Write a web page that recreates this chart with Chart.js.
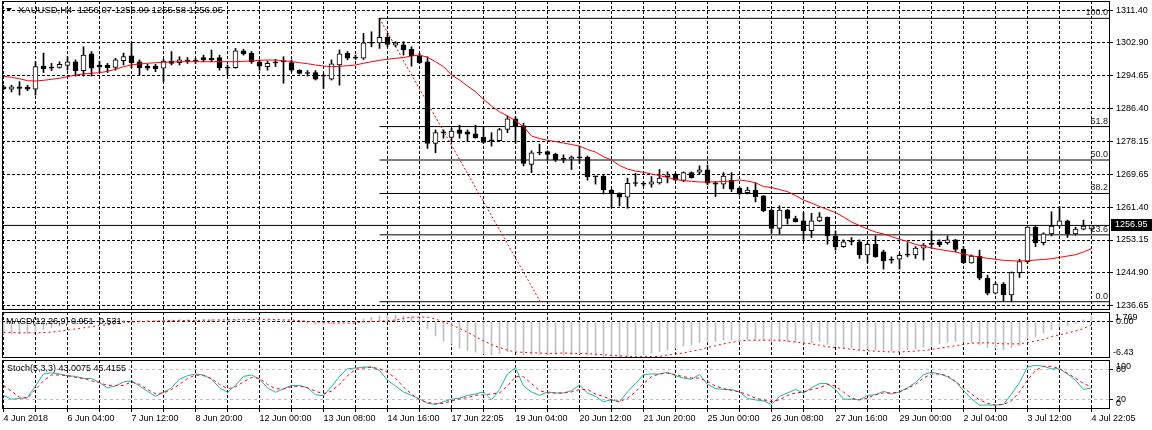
<!DOCTYPE html>
<html>
<head>
<meta charset="utf-8">
<script src="https://cdn.jsdelivr.net/npm/chart.js@4.4.1/dist/chart.umd.min.js"></script>
<style>
  html, body { margin: 0; padding: 0; background: #fff; }
  #wrap { position: relative; width: 1152px; height: 430px; overflow: hidden; background: #fff; }
  canvas { position: absolute; left: 0; }
</style>
</head>
<body>
<div id="wrap">
  <canvas id="mainChart" width="1152" height="311" style="top:0px"></canvas>
  <canvas id="macdChart" width="1152" height="48" style="top:311px"></canvas>
  <canvas id="stochChart" width="1152" height="71" style="top:359px"></canvas>
</div>
<script>
//data

const symbolTitle = 'XAUUSD,H4';
const macdTitle = 'MACD(12,26,9) 0.951 -0.531';
const stochTitle = 'Stoch(5,3,3) 43.0075 45.4155';

const xLabels = ['4 Jun 2018', '6 Jun 04:00', '7 Jun 12:00', '8 Jun 20:00', '12 Jun 00:00', '13 Jun 08:00',
  '14 Jun 16:00', '17 Jun 22:05', '19 Jun 04:00', '20 Jun 12:00', '21 Jun 20:00', '25 Jun 00:00',
  '26 Jun 08:00', '27 Jun 16:00', '29 Jun 00:00', '2 Jul 04:00', '3 Jul 12:00', '4 Jul 22:05'];
const priceTickLabels = ['1311.40', '1302.90', '1294.65', '1286.40', '1278.15', '1269.65', '1261.40', '1253.15', '1244.90', '1236.65'];
const macdLabels = ['1.769', '0.00', '-6.43'];
const stochLabels = ['100', '80', '20', '0'];

const openPrices = [1292.0,1291.4,1292.0,1291.9,1291.4,1297.2,1297.0,1296.9,1297.4,1298.3,
 1296.1,1300.3,1297.5,1297.5,1296.9,1298.6,1299.8,1298.3,1297.2,1297.2,
 1296.7,1298.4,1298.1,1298.6,1298.5,1299.4,1299.2,1299.4,1297.0,1296.8,
 1301.1,1300.5,1298.3,1297.1,1298.1,1298.3,1298.1,1296.2,1295.4,1295.6,
 1294.7,1293.9,1297.5,1300.5,1299.5,1299.2,1303.3,1303.1,1304.5,1302.5,
 1302.6,1301.5,1299.8,1298.3,1277.7,1280.4,1279.2,1281.1,1280.6,1280.1,
 1279.2,1278.4,1278.4,1281.2,1283.9,1282.1,1272.4,1275.3,1275.6,1274.9,
 1273.7,1273.7,1274.1,1274.2,1269.3,1269.4,1265.9,1265.1,1264.1,1267.6,
 1267.4,1267.4,1267.7,1269.3,1269.9,1268.3,1270.3,1270.4,1271.0,1267.7,
 1267.4,1268.4,1266.3,1265.2,1265.9,1264.4,1260.8,1256.2,1260.8,1258.7,
 1258.1,1255.6,1258.1,1259.0,1254.3,1251.6,1252.8,1252.8,1249.5,1252.2,
 1250.3,1248.2,1248.4,1249.5,1249.5,1251.2,1252.2,1252.8,1252.6,1253.3,
 1250.9,1247.5,1249.2,1243.6,1239.8,1242.1,1239.4,1245.0,1247.8,1256.5,
 1252.6,1254.8,1256.8,1258.1,1254.8,1256.0,1256.07];
const highPrices = [1292.4,1292.4,1293.3,1292.4,1298.3,1300.5,1297.9,1298.3,1299.6,1298.8,
 1302.1,1300.9,1298.5,1297.9,1299.2,1300.5,1303.1,1298.8,1297.7,1297.7,
 1298.9,1300.9,1299.6,1299.4,1299.2,1300.0,1301.3,1300.0,1297.5,1301.7,
 1301.5,1300.9,1298.8,1298.5,1298.9,1299.6,1298.8,1296.3,1296.1,1296.1,
 1295.2,1298.8,1301.3,1300.9,1300.0,1305.5,1305.9,1309.3,1305.5,1303.4,
 1303.4,1302.1,1300.5,1299.6,1281.1,1281.1,1281.5,1282.3,1281.1,1282.3,
 1281.9,1280.4,1281.5,1284.6,1284.4,1282.8,1275.8,1277.5,1275.8,1275.2,
 1274.8,1274.5,1277.0,1274.5,1269.4,1269.7,1266.1,1265.2,1268.9,1270.1,
 1268.0,1269.3,1271.1,1270.5,1270.1,1270.5,1270.5,1272.0,1272.2,1268.0,
 1270.3,1270.3,1266.6,1266.6,1267.7,1264.5,1261.0,1261.9,1261.0,1259.3,
 1260.2,1260.0,1260.2,1259.1,1255.6,1253.3,1253.9,1253.3,1252.6,1254.3,
 1250.7,1249.0,1249.9,1252.6,1251.6,1252.4,1255.6,1253.3,1254.3,1253.4,
 1251.6,1249.5,1250.7,1244.4,1242.5,1242.5,1245.2,1248.4,1256.6,1256.8,
 1255.1,1260.4,1261.7,1258.3,1256.5,1258.3,1256.99];
const lowPrices = [1291.2,1290.7,1289.9,1291.0,1289.9,1295.6,1296.1,1296.7,1296.2,1294.7,
 1294.7,1294.7,1295.6,1295.6,1296.2,1297.5,1296.8,1295.0,1296.2,1295.8,
 1293.3,1297.5,1297.5,1297.9,1297.9,1298.3,1298.3,1296.2,1295.0,1296.7,
 1300.0,1297.9,1296.2,1296.2,1297.1,1292.9,1295.8,1295.2,1294.7,1293.7,
 1291.6,1293.7,1292.4,1298.8,1298.9,1298.9,1302.1,1301.7,1302.1,1302.1,
 1300.0,1297.2,1297.9,1276.4,1275.3,1279.0,1278.1,1279.0,1278.1,1279.0,
 1277.7,1277.0,1278.1,1280.4,1277.7,1272.0,1270.3,1274.8,1273.5,1273.1,
 1272.8,1271.1,1272.6,1268.4,1267.4,1264.9,1261.5,1261.9,1261.3,1266.9,
 1266.9,1266.6,1267.4,1267.7,1268.3,1268.0,1268.9,1269.9,1267.2,1264.2,
 1266.3,1265.5,1264.6,1264.9,1262.9,1260.4,1255.0,1254.8,1257.3,1257.8,
 1253.4,1253.9,1257.9,1252.2,1250.7,1251.4,1252.0,1248.6,1247.5,1248.9,
 1245.9,1247.4,1245.9,1249.0,1248.6,1248.2,1251.2,1251.6,1252.2,1250.3,
 1247.4,1247.4,1243.2,1239.4,1239.6,1237.9,1237.66,1243.8,1247.4,1251.6,
 1252.0,1254.3,1256.5,1253.9,1254.5,1255.8,1255.58];
const closePrices = [1291.5,1292.0,1291.6,1291.4,1297.1,1296.6,1296.7,1297.7,1298.3,1296.1,
 1300.0,1296.7,1297.0,1296.8,1298.8,1299.6,1298.1,1296.8,1296.7,1296.6,
 1298.5,1297.9,1298.8,1298.5,1298.45,1298.8,1298.8,1296.8,1296.7,1301.1,
 1300.3,1298.3,1297.2,1297.9,1298.05,1298.25,1296.2,1295.4,1295.35,1293.9,
 1294.65,1297.8,1300.3,1299.2,1299.2,1303.1,1303.0,1304.5,1302.7,1303.1,
 1301.3,1299.8,1298.1,1277.7,1280.4,1280.35,1280.8,1280.2,1280.0,1279.1,
 1277.9,1278.35,1281.2,1283.9,1282.1,1272.6,1275.3,1275.25,1274.9,1273.5,
 1273.65,1274.2,1274.05,1269.3,1269.25,1265.9,1264.9,1264.1,1267.6,1267.55,
 1267.35,1268.0,1268.9,1269.7,1268.4,1270.3,1269.0,1271.0,1267.6,1267.4,
 1269.4,1266.1,1265.1,1265.9,1264.2,1260.7,1256.2,1260.8,1258.7,1257.9,
 1255.6,1258.1,1259.1,1254.3,1251.6,1252.8,1252.75,1249.5,1252.2,1249.0,
 1248.0,1248.15,1249.4,1249.45,1251.2,1252.0,1252.15,1252.0,1253.3,1250.9,
 1247.5,1249.2,1243.6,1239.8,1242.1,1239.4,1245.0,1247.8,1256.5,1252.6,
 1254.8,1256.8,1258.1,1254.8,1256.0,1256.8,1256.95];
const maValues = [1294.64,1294.39,1294.04,1293.53,1293.45,1293.63,1293.88,1294.14,1294.54,1294.97,
 1295.22,1295.40,1295.55,1295.91,1296.41,1297.07,1297.50,1297.75,1297.93,1298.08,
 1298.18,1298.26,1298.33,1298.33,1298.33,1298.33,1298.33,1298.33,1298.33,1298.33,
 1298.43,1298.51,1298.69,1298.76,1298.76,1298.59,1298.38,1298.08,1297.83,1297.50,
 1297.25,1297.07,1297.17,1297.32,1297.50,1297.93,1298.33,1298.69,1298.94,1299.19,
 1299.39,1299.77,1300.03,1299.44,1298.33,1297.07,1294.97,1293.71,1292.19,1290.75,
 1288.83,1287.13,1285.69,1284.61,1283.42,1281.90,1279.55,1278.92,1278.46,1278.16,
 1277.78,1277.40,1277.02,1276.14,1275.50,1274.32,1273.48,1272.09,1271.21,1270.70,
 1270.37,1269.94,1269.56,1269.06,1268.60,1268.25,1268.10,1267.92,1267.92,1267.97,
 1268.05,1268.17,1268.43,1268.17,1267.74,1266.78,1266.53,1266.02,1265.47,1264.51,
 1263.37,1262.61,1261.73,1260.97,1260.21,1259.07,1257.81,1256.92,1256.04,1255.28,
 1254.77,1254.14,1253.44,1252.88,1252.12,1251.74,1251.24,1250.86,1250.55,1250.22,
 1249.72,1249.29,1248.96,1248.63,1248.38,1248.13,1248.02,1247.95,1248.02,1248.20,
 1248.33,1248.53,1248.88,1249.21,1249.54,1250.22,1251.11];
const macdMain = [-2.15,-2.15,-2.1,-2.1,-1.65,-1.3,-1.0,-0.75,-0.5,-0.4,
 -0.1,0.05,0.1,0.1,0.2,0.3,0.35,0.3,0.3,0.25,
 0.35,0.4,0.45,0.45,0.45,0.5,0.5,0.35,0.25,0.45,
 0.5,0.45,0.35,0.3,0.3,0.3,0.15,-0.05,-0.2,-0.4,
 -0.5,-0.35,-0.05,0.1,0.15,0.5,0.8,1.1,1.15,1.2,
 1.1,0.9,0.6,-1.2,-2.5,-3.45,-3.9,-4.7,-5.1,-5.4,
 -5.7,-5.9,-5.7,-5.3,-5.2,-5.9,-5.9,-5.8,-5.8,-5.85,
 -5.9,-5.85,-5.7,-5.9,-6.0,-6.2,-6.35,-6.43,-6.1,-5.9,
 -5.8,-5.6,-5.3,-5.0,-4.7,-4.3,-4.1,-3.7,-3.6,-3.5,
 -3.2,-3.2,-3.2,-3.1,-3.2,-3.3,-3.6,-3.5,-3.6,-3.6,
 -3.75,-3.7,-3.5,-4.0,-4.4,-4.6,-4.6,-5.0,-4.8,-5.0,
 -5.2,-5.2,-5.1,-5.0,-4.8,-4.5,-4.2,-3.9,-3.6,-3.5,
 -3.6,-3.6,-4.1,-4.6,-4.7,-5.0,-4.6,-4.2,-3.0,-2.6,
 -2.0,-1.4,-0.9,-0.6,-0.3,0.4,0.951];
const macdSignal = [-1.85,-1.9,-1.95,-1.95,-1.96,-1.9,-1.82,-1.65,-1.45,-1.25,
 -1.05,-0.85,-0.65,-0.5,-0.33,-0.15,0,0.05,0.1,0.15,
 0.2,0.22,0.24,0.25,0.26,0.3,0.33,0.36,0.38,0.39,
 0.42,0.44,0.45,0.46,0.42,0.38,0.33,0.22,0.1,0,
 -0.1,-0.2,-0.2,-0.2,-0.2,0,0.05,0.13,0.22,0.33,
 0.65,0.85,0.88,0.85,0.52,0,-0.52,-1.17,-1.82,-2.61,
 -3.4,-4.05,-4.57,-5.03,-5.36,-5.42,-5.49,-5.55,-5.62,-5.6,
 -5.55,-5.6,-5.62,-5.68,-5.75,-5.85,-5.95,-6.05,-6.14,-6.18,
 -6.2,-6.18,-6.14,-5.88,-5.7,-5.55,-5.22,-4.96,-4.57,-4.24,
 -3.91,-3.65,-3.4,-3.26,-3.26,-3.26,-3.26,-3.26,-3.4,-3.59,
 -3.75,-3.91,-4.15,-4.44,-4.57,-4.7,-4.87,-5.03,-5.12,-5.22,
 -5.29,-5.36,-5.33,-5.29,-5.2,-5.09,-4.9,-4.7,-4.47,-4.24,
 -4.0,-3.78,-3.75,-3.72,-3.8,-3.91,-3.91,-3.91,-3.65,-3.4,
 -3.14,-2.61,-2.29,-1.96,-1.63,-1.17,-0.531];
const stochMain = [27.8,20,21.4,23.5,46.8,71.5,73.6,71.5,68,66.6,
 62.3,62.3,53.9,43.3,46.8,55.3,57.4,46.8,36.2,25.6,
 34.1,43.3,60.9,68,71.5,69.4,60.9,43.3,34.1,48.2,
 66.6,69.4,60.9,43.3,34.1,41.2,48.2,48.2,43.3,29.2,
 27.1,45.4,66.6,82.1,83.5,85.6,85.6,78.6,58.8,46.8,
 34.8,27.8,20.7,11.5,9.4,15,20,22.1,27.8,30.6,
 34.8,18.6,39.8,71.5,84.2,46.8,34.8,27.8,34.8,32.7,
 32.7,37.6,48.9,32.7,25.6,15,18.6,15,34.8,51.8,
 70.1,71.5,71.5,75.1,68,63.1,60.9,70.1,50.3,41.9,
 39.8,39.8,34.8,21.4,18.6,16.5,9.4,25.6,32.7,39.8,
 32.7,43.3,51.8,51.8,39.8,20,20,18.6,27.8,29.2,
 36.2,30.6,34.8,43.3,53.9,70.1,75.1,71.5,65.9,56,
 37.6,20.7,8,8,8,9.4,30.6,53.9,85.6,89.2,
 87.1,82.1,82.1,71.5,58.8,39.8,43.0];
const stochSignal = [48.2,36.2,24.2,22.1,39.8,57.4,69.4,69.4,68,64.5,
 62.3,57.4,53.9,48.2,48.2,48.2,55.3,50.3,39.8,31.3,
 32.7,39.8,50.3,62.3,69.4,68,62.3,50.3,41.2,45.4,
 55.3,64.5,62.3,50.3,41.2,41.2,45.4,46.8,43.3,36.2,
 31.3,36.2,50.3,68,80.7,83.5,85.6,82,75,63,
 44.7,30.6,18.6,13.6,10.8,11.5,16.5,20.7,23.5,27.8,
 29.2,30.6,32.7,46.8,65.9,65.9,51.8,37.6,32.7,32.7,
 32.7,34.8,39.8,39.8,30.6,25.6,18.6,15,22.1,34.8,
 51.8,65.9,71.5,72.9,70.1,65.9,63.1,63.1,56,46.8,
 41.9,37.6,34.8,29.2,22.1,18.6,15,18.6,27.8,32.7,
 34.8,39.8,43.3,50.3,46.8,34.8,22.1,18.6,22.1,29.2,
 32.7,32.7,34.8,41.9,50.3,63.1,71.5,71.5,68,56,
 43.3,30.6,18.6,11.5,8,9.4,16.5,34.8,58.8,78.6,
 87.1,87.1,82.1,72.9,63.1,51.8,45.4];

// fibo tool, drawn from the 13 Jun high down to the low
const fibRatios = [100.0, 61.8, 50.0, 38.2, 23.6, 0.0];
const fibHigh = 1309.3, fibLow = 1237.66;
const fibFromBar = 47, fibToBar = 67.1;

//setup

Chart.defaults.font.family = '"Liberation Sans", Arial, sans-serif';
Chart.defaults.font.size = 9;
Chart.defaults.color = '#000';
Chart.defaults.animation = false;

const X_MIN = -0.1875, X_MAX = 138.3125;
const PRICE_MIN = 1235.57, PRICE_MAX = 1313.68;
const last = closePrices.length - 1;
const tickTop = parseFloat(priceTickLabels[0]);
const tickStep = (tickTop - parseFloat(priceTickLabels[priceTickLabels.length - 1])) / (priceTickLabels.length - 1);
const gridBars = [];
for (let b = 0; b <= last; b += 4) gridBars.push(b);
const bull = closePrices.map((c, i) => c >= openPrices[i]);
const fibLevel = r => fibLow + r / 100 * (fibHigh - fibLow);
const pts = arr => arr.map((v, i) => ({x: i, y: v}));
const hLine = (from, to, v) => [{x: from, y: v}, {x: to, y: v}];

function xAxis(showLabels, height) {
  return {
    type: 'linear', min: X_MIN, max: X_MAX, offset: false, bounds: 'data',
    afterBuildTicks: s => { s.ticks = gridBars.map(v => ({value: v})); },
    afterFit: s => { s.height = height; s.paddingLeft = 0; s.paddingRight = 0; },
    grid: {color: '#000', lineWidth: 1, offset: false, drawTicks: showLabels, tickLength: 3, tickColor: '#000', tickBorderDash: []},
    border: {display: false, dash: [3, 2]},
    ticks: {display: showLabels, autoSkip: false, maxRotation: 0, align: 'start', padding: 1, color: '#000',
      callback: (v, k) => (k % 2 === 0 ? xLabels[k / 2] : '')}
  };
}

function yAxis(min, max, tickValues, tickText, gridColor, dash) {
  return {
    type: 'linear', position: 'right', min: min, max: max, bounds: 'data',
    afterBuildTicks: s => { s.ticks = tickValues.map(v => ({value: v})); },
    afterFit: s => { s.width = 42; s.paddingTop = 0; s.paddingBottom = 0; },
    grid: {color: gridColor, lineWidth: 1, drawTicks: true, tickLength: 3, tickColor: '#000', tickBorderDash: []},
    border: {display: false, dash: dash},
    ticks: {padding: 3, color: '#000', autoSkip: false, callback: (v, k) => tickText[k]}
  };
}

const panelBorder = {
  id: 'panelBorder',
  afterDraw(chart) {
    const {ctx, chartArea: a} = chart;
    ctx.save();
    ctx.strokeStyle = '#000';
    ctx.lineWidth = 1;
    ctx.strokeRect(Math.round(a.left) + 0.5, Math.round(a.top) + 0.5, Math.round(a.right - a.left) - 1, Math.round(a.bottom - a.top) - 1);
    ctx.restore();
  }
};

const baseOptions = (padding, scales) => ({
  responsive: false, animation: false, devicePixelRatio: 1,
  layout: {padding: padding},
  plugins: {legend: {display: false}, tooltip: {enabled: false}},
  scales: scales
});

//main price panel

const mainOverlay = {
  id: 'mainOverlay',
  afterDraw(chart) {
    const {ctx, chartArea: a, scales: {y}} = chart;
    ctx.save();
    ctx.fillStyle = '#000';
    ctx.beginPath();
    ctx.moveTo(6, 8); ctx.lineTo(12, 8); ctx.lineTo(9, 11.5); ctx.closePath(); ctx.fill();
    ctx.textBaseline = 'middle';
    ctx.font = '9.5px "Liberation Sans", Arial, sans-serif';
    ctx.fillText(symbolTitle + '  ' + [openPrices[last], highPrices[last], lowPrices[last], closePrices[last]].map(v => v.toFixed(2)).join(' '), 18, 10);
    ctx.font = '9px "Liberation Sans", Arial, sans-serif';
    ctx.textAlign = 'right';
    ctx.textBaseline = 'bottom';
    ctx.fillStyle = '#222';
    fibRatios.forEach(r => ctx.fillText(r.toFixed(1), a.right - 2, y.getPixelForValue(fibLevel(r)) - 1));
    const py = Math.round(y.getPixelForValue(closePrices[last]));
    ctx.fillStyle = '#000';
    ctx.fillRect(a.right + 1, py - 6, 42, 12);
    ctx.fillStyle = '#fff';
    ctx.textAlign = 'left';
    ctx.textBaseline = 'middle';
    ctx.fillText(closePrices[last].toFixed(2), a.right + 5, py);
    ctx.restore();
  }
};

const mainDatasets = [
  {type: 'line', data: pts(maValues), borderColor: '#ff0000', borderWidth: 1, pointRadius: 0, order: 0},
  {type: 'bar', data: closePrices.map((c, i) => ({x: i, y: [openPrices[i], c]})),
    backgroundColor: bull.map(b => (b ? '#ffffff' : '#000000')), borderColor: '#000', borderWidth: 1, borderSkipped: false,
    barThickness: 5, maxBarThickness: 5, minBarLength: 1, grouped: false, order: 1},
  {type: 'bar', data: highPrices.map((h, i) => ({x: i, y: [lowPrices[i], h]})),
    backgroundColor: '#000', borderWidth: 0, barThickness: 1, maxBarThickness: 1, minBarLength: 1, grouped: false, order: 2},
  {type: 'line', data: [{x: fibFromBar, y: fibHigh}, {x: fibToBar, y: fibLow}], borderColor: '#ff0000', borderWidth: 1,
    borderDash: [2, 2], pointRadius: 0, order: 3},
  {type: 'line', data: hLine(X_MIN, X_MAX, closePrices[last]), borderColor: '#000', borderWidth: 1, pointRadius: 0, order: 3}
];
fibRatios.forEach(r => mainDatasets.push({type: 'line', data: hLine(fibFromBar, X_MAX, fibLevel(r)),
  borderColor: '#000', borderWidth: 1, pointRadius: 0, order: 3}));

new Chart(document.getElementById('mainChart'), {
  type: 'bar',
  data: {datasets: mainDatasets},
  options: baseOptions({left: 2, top: 1, right: 0, bottom: 1}, {
    x: xAxis(false, 0),
    y: yAxis(PRICE_MIN, PRICE_MAX, priceTickLabels.map((t, k) => tickTop - k * tickStep), priceTickLabels, '#000', [3, 2])
  }),
  plugins: [panelBorder, mainOverlay]
});

//macd panel

const macdMax = parseFloat(macdLabels[0]), macdMin = parseFloat(macdLabels[2]);
const macdOverlay = {
  id: 'macdOverlay',
  afterDraw(chart) {
    const {ctx, chartArea: a} = chart;
    ctx.save();
    ctx.font = '9px "Liberation Sans", Arial, sans-serif';
    ctx.fillStyle = '#000';
    ctx.textBaseline = 'middle';
    ctx.fillText(macdTitle, 6, a.top + 9.5);
    ctx.fillText(macdLabels[0], a.right + 5, a.top + 6);
    ctx.fillText(macdLabels[2], a.right + 3, a.bottom - 5.5);
    ctx.restore();
  }
};

new Chart(document.getElementById('macdChart'), {
  type: 'bar',
  data: {datasets: [
    {type: 'line', data: pts(macdSignal), borderColor: '#ff0000', borderWidth: 1, borderDash: [2, 3], pointRadius: 0, order: 0},
    {type: 'bar', data: pts(macdMain), backgroundColor: '#c0c0c0', borderWidth: 0,
      barThickness: 1, maxBarThickness: 1, grouped: false, order: 1}
  ]},
  options: baseOptions({left: 2, top: 1, right: 0, bottom: 1}, {
    x: xAxis(false, 0),
    y: yAxis(macdMin, macdMax, [0], [macdLabels[1]], '#000', [3, 2])
  }),
  plugins: [panelBorder, macdOverlay]
});

//stochastic panel

const stochOverlay = {
  id: 'stochOverlay',
  afterDraw(chart) {
    const {ctx, chartArea: a} = chart;
    ctx.save();
    ctx.font = '9px "Liberation Sans", Arial, sans-serif';
    ctx.fillStyle = '#000';
    ctx.textBaseline = 'middle';
    ctx.fillText(stochTitle, 7, a.top + 9);
    ctx.fillText(stochLabels[0], a.right + 6, a.top + 6.5);
    ctx.fillText(stochLabels[3], a.right + 6, a.bottom - 5.5);
    ctx.restore();
  }
};

new Chart(document.getElementById('stochChart'), {
  type: 'line',
  data: {datasets: [
    {data: pts(stochMain), borderColor: '#20b2aa', borderWidth: 1, pointRadius: 0, order: 1},
    {data: pts(stochSignal), borderColor: '#ff0000', borderWidth: 1, borderDash: [3, 3], pointRadius: 0, order: 0}
  ]},
  options: baseOptions({left: 2, top: 1, right: 0, bottom: 0}, {
    x: xAxis(true, 21),
    y: yAxis(0, 100, [80, 20], [stochLabels[1], stochLabels[2]], '#c0c0c0', [3, 3])
  }),
  plugins: [panelBorder, stochOverlay]
});
</script>
</body>
</html>
